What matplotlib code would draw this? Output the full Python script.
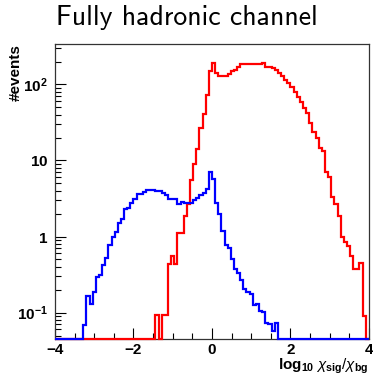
import numpy as np
import matplotlib
matplotlib.use('Agg')
import matplotlib.pyplot as plt
from matplotlib.ticker import FixedLocator, FixedFormatter, MultipleLocator

plt.rcParams['mathtext.fontset'] = 'custom'
plt.rcParams['mathtext.rm'] = 'Liberation Sans'
plt.rcParams['mathtext.bf'] = 'Liberation Sans:bold'
plt.rcParams['mathtext.it'] = 'Liberation Sans:italic'

# log10(chi_sig/chi_bg), 100 bins from -4 to 4
bin_edges = np.linspace(-4, 4, 101)

# signal (red)
red_counts = [0] * 32 + [
    0.092, 0, 0.092, 0.092, 0.44, 0.55, 0.44, 1.12, 1.12, 1.85,
    2.64, 5.6, 8.9, 14.3, 26.4, 41, 72, 150, 193, 143,
    131, 131, 131, 138, 150, 157, 169, 183, 183, 187,
    187, 187, 187, 185, 193, 171, 171, 162, 154, 143,
    131, 116, 105, 93, 80, 68, 58, 49, 42, 31,
    23.5, 19.5, 14.7, 13.3, 7.0, 6.1, 3.3, 2.7, 1.85, 1.0,
    0.84, 0.74, 0.56, 0.37, 0.37, 0.45, 0.091, 0]

# background (blue)
blue_counts = [0] * 9 + [
    0.068, 0.164, 0.13, 0.185, 0.295, 0.31, 0.42, 0.53, 0.77, 0.98,
    1.14, 1.51, 1.72, 2.27, 2.35, 2.8, 3.16, 3.65, 3.65, 3.87,
    4.15, 4.15, 4.15, 3.95, 3.95, 3.76, 3.57, 3.07, 3.07, 3.07,
    2.69, 2.83, 2.78, 2.78, 2.78, 2.98, 3.23, 3.49, 3.76, 4.2,
    7.0, 5.74, 2.72, 1.95, 1.17, 0.785, 0.71, 0.51, 0.376, 0.333,
    0.266, 0.207, 0.185, 0.178, 0.125, 0.13, 0.104, 0.103, 0.073, 0.07,
    0.057, 0.073] + [0] * 29

ytick_vals = [0.1, 1, 10, 100]
ytick_labels = [r'$\mathbf{10^{-1}}$', r'$\mathbf{1}$', r'$\mathbf{10}$', r'$\mathbf{10^{2}}$']

ymin, ymax = 0.045, 340

fig = plt.figure(figsize=(3.73, 3.78), dpi=100)
ax = fig.add_axes([0.1475, 0.1032, 0.8415, 0.7804])

for counts, col in [(red_counts, '#ff0000'), (blue_counts, '#0000ff')]:
    vals = np.maximum(np.array(counts, dtype=float), ymin)
    ax.stairs(vals, bin_edges, baseline=None, color=col, linewidth=1.6,
              zorder=3, clip_on=False)

ax.set_yscale('log')
ax.set_xlim(-4, 4)
ax.set_ylim(ymin, ymax)

ax.xaxis.set_major_locator(MultipleLocator(2))
ax.xaxis.set_minor_locator(MultipleLocator(0.5))
ax.yaxis.set_major_locator(FixedLocator(ytick_vals))
ax.yaxis.set_major_formatter(FixedFormatter(ytick_labels))

ax.tick_params(which='both', direction='in', top=False, right=False)
ax.tick_params(which='major', length=8, width=0.8)
ax.tick_params(which='minor', length=4, width=0.8)
ax.tick_params(axis='x', pad=3)
ax.tick_params(axis='y', pad=5)
for lab in ax.get_xticklabels():
    lab.set_fontfamily('Liberation Sans')
    lab.set_fontweight('bold')
    lab.set_fontsize(11)
for lab in ax.get_yticklabels():
    lab.set_fontsize(11)

for s in ax.spines.values():
    s.set_linewidth(0.9)
    s.set_color('#333333')

# axis titles placed like the ROOT canvas
ax.set_xlabel(r'$\mathbf{log_{10}}\ \chi_{\mathbf{sig}}/\chi_{\mathbf{bg}}$',
              fontsize=11, loc='right')
ax.xaxis.set_label_coords(1.0, -0.06)
ax.set_ylabel('#events', fontsize=11, fontweight='bold',
              family='Liberation Sans', loc='top')
ax.yaxis.set_label_coords(-0.103, 1.0)

fig.text(0.5, 0.953, 'Fully hadronic channel', ha='center', va='center',
         fontsize=20, family='cmss10')

fig.savefig('out.png', dpi=100, facecolor='white')
